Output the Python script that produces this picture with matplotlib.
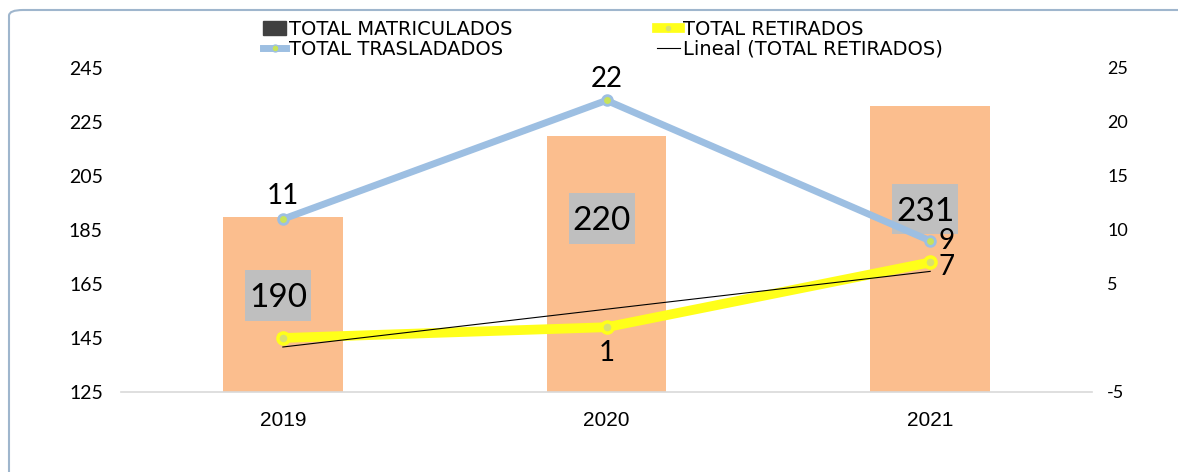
import numpy as np
import matplotlib
matplotlib.use("Agg")
import matplotlib.pyplot as plt
from matplotlib.patches import FancyBboxPatch, Patch, Rectangle
from matplotlib.lines import Line2D

plt.rcParams['axes.unicode_minus'] = False

# data
years = ['2019', '2020', '2021']
matriculados = [190, 220, 231]
trasladados = [11, 22, 9]
retirados = [0, 1, 7]

left_ticks = [125, 145, 165, 185, 205, 225, 245]
right_ticks = [-5, 5, 10, 15, 20, 25]

# where the boxed bar labels sit (left axis units), as placed in the original
bar_label_y = [160.8, 189.3, 192.8]

bar_color = '#FBBE8E'
blue = '#9DBFE2'
yellow = '#FFFF1A'
num_font = 'Lato'
leg_font = 'Liberation Sans Narrow'

fig = plt.figure(figsize=(11.78, 4.72), dpi=100)
ax = fig.add_axes([121/1178, 1-392/472, (1092-121)/1178, (392-68)/472])
ax2 = ax.twinx()

x = np.arange(len(years))
ax.bar(x, matriculados, width=0.37, color=bar_color, zorder=1)
ax.set_xlim(-0.5, 2.5)
ax.set_ylim(125, 245)
ax.set_yticks(left_ticks)
ax.set_xticks(x)
ax.set_xticklabels(years, family='Liberation Sans', fontsize=15)
ax.tick_params(axis='y', length=0, pad=13, labelsize=14)
ax.tick_params(axis='x', length=0, pad=14)
for lab in ax.get_yticklabels():
    lab.set_family(num_font)
for s in ['top', 'right', 'left']:
    ax.spines[s].set_visible(False)
ax.spines['bottom'].set_color('#D9D9D9')
ax.spines['bottom'].set_linewidth(1.2)

# bar value labels on gray boxes
box_w, box_h = 0.204, 18.8
for xi, v, ly in zip(x, matriculados, bar_label_y):
    cx = xi - 0.015
    ax.add_patch(Rectangle((cx - box_w / 2, ly - box_h / 2), box_w, box_h,
                           fc='#BFBFBF', ec='none', zorder=4))
    ax.text(cx, ly, str(v), ha='center', va='center_baseline', fontsize=24,
            family=num_font, zorder=5)

# lines on secondary axis
ax2.set_ylim(-5, 25)
ax2.set_yticks(right_ticks)
ax2.tick_params(axis='y', length=0, pad=11, labelsize=13)
for lab in ax2.get_yticklabels():
    lab.set_family(num_font)
for s in ax2.spines.values():
    s.set_visible(False)

ax2.plot(x, trasladados, color=blue, lw=5, marker='o', ms=7,
         mfc='#C8E35A', mec=blue, mew=2, zorder=3, solid_joinstyle='round')
ax2.plot(x, retirados, color=yellow, lw=7, marker='o', ms=8,
         mfc='#D9E070', mec=yellow, mew=2.5, zorder=3, solid_joinstyle='round')
slope, icpt = np.polyfit(x, retirados, 1)
ax2.plot(x, slope * x + icpt, color='black', lw=0.8, zorder=4)

# line value labels
lab_kw = dict(textcoords='offset points', fontsize=20, family=num_font, zorder=6)
ax2.annotate(str(trasladados[0]), (x[0], trasladados[0]), xytext=(0, 7),
             ha='center', va='bottom', **lab_kw)
ax2.annotate(str(trasladados[1]), (x[1], trasladados[1]), xytext=(0, 6),
             ha='center', va='bottom', **lab_kw)
ax2.annotate(str(trasladados[2]), (x[2], trasladados[2]), xytext=(6, 0),
             ha='left', va='center', **lab_kw)
ax2.annotate(str(retirados[1]), (x[1], retirados[1]), xytext=(0, -9),
             ha='center', va='top', **lab_kw)
ax2.annotate(str(retirados[2]), (x[2], retirados[2]), xytext=(6, -3),
             ha='left', va='center', **lab_kw)

# legend
handles = [Patch(color='#404040'),
           Line2D([], [], color=blue, lw=5, marker='o', ms=5, mfc='#C8E35A', mec=blue),
           Line2D([], [], color=yellow, lw=7, marker='o', ms=5, mfc='#D9E070', mec=yellow),
           Line2D([], [], color='black', lw=0.8)]
labels = ['TOTAL MATRICULADOS', 'TOTAL TRASLADADOS', 'TOTAL RETIRADOS',
          'Lineal (TOTAL RETIRADOS)']
fig.legend(handles, labels, ncol=2, loc='upper left', bbox_to_anchor=(263/1178, 1-20/472),
           frameon=False, prop={'family': leg_font, 'size': 14},
           handlelength=1.2, handletextpad=0.15, columnspacing=7.4, labelspacing=0.05,
           borderaxespad=0, borderpad=0)

# outer rounded frame (runs off the right and bottom edges)
frame = FancyBboxPatch((9/1178, -40/472), 1300/1178, (462+40)/472,
                       boxstyle='round,pad=0,rounding_size=0.012', transform=fig.transFigure,
                       fc='none', ec='#9FB6CD', lw=1.5, clip_on=False)
fig.patches.append(frame)

fig.savefig('out.png', dpi=100)
